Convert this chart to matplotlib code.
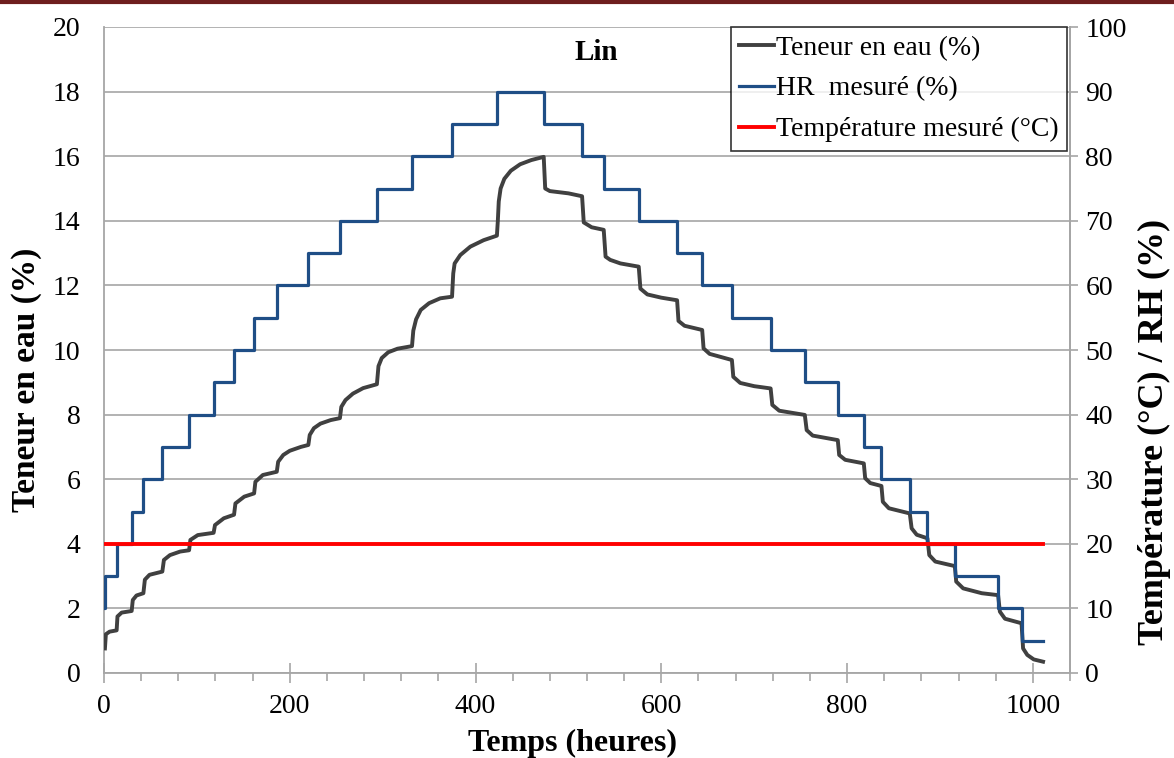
import matplotlib
matplotlib.use("Agg")
import matplotlib.pyplot as plt
from matplotlib.ticker import MultipleLocator
from matplotlib.lines import Line2D

# ---------------- data ----------------
# Relative humidity steps (time in hours, HR in %), drawn as a post-step line
hr_times = [0, 1, 13.6, 29.8, 42.4, 62.8, 91.6, 118, 140, 161.6, 186, 220, 254,
            293.8, 331.6, 374.7, 423, 473.4, 514.7, 538, 575.7, 617, 644, 676,
            717.7, 754.5, 790, 818, 837, 867.5, 886.5, 916, 962.6, 987.8, 1011]
hr_values = [10, 15, 20, 25, 30, 35, 40, 45, 50, 55, 60, 65, 70, 75, 80, 85, 90,
             85, 80, 75, 70, 65, 60, 55, 50, 45, 40, 35, 30, 25, 20, 15, 10, 5, 5]

# Temperature (°C)
temp_times = [0, 1011]
temp_values = [20, 20]

# Water content (%)
water_t = [1, 2, 6, 13.6,
           14.5, 19, 29.8,
           31, 35, 42.4,
           44, 49, 62.8,
           64.5, 71, 82, 91.6,
           93, 101, 118,
           119.5, 129, 140,
           141.5, 151, 161.6,
           163, 171, 186,
           187.5, 193, 200, 212, 220,
           221.5, 226, 233, 244, 254,
           255.5, 260, 268, 279, 293.8,
           295.5, 299, 306, 316, 331.6,
           333, 336, 341, 350, 362, 374.7,
           376, 377.5, 383.6, 394.4, 408.7, 423,
           424, 425, 427, 431, 438, 448, 460, 473.4,
           475, 480, 500, 514.7,
           516.5, 525, 538,
           540, 545, 556, 575.7,
           577.5, 585, 600, 617,
           618.5, 625, 644,
           645.5, 652, 676,
           677.5, 685, 700, 717.7,
           719.5, 727, 754.5,
           756.5, 763, 790,
           791.5, 798, 818,
           819.5, 825, 837,
           838.5, 845, 867.5,
           869.5, 875, 886.5,
           888.5, 895, 916,
           917.5, 925, 945, 962.6,
           964.5, 970, 987.8,
           989.5, 994, 1001, 1011]
water_w = [0.76, 1.2, 1.28, 1.32,
           1.75, 1.87, 1.92,
           2.26, 2.4, 2.47,
           2.89, 3.04, 3.14,
           3.5, 3.65, 3.76, 3.8,
           4.12, 4.27, 4.34,
           4.58, 4.79, 4.9,
           5.25, 5.46, 5.56,
           5.92, 6.13, 6.23,
           6.54, 6.75, 6.88, 7.0, 7.06,
           7.37, 7.58, 7.72, 7.83, 7.89,
           8.24, 8.45, 8.65, 8.82, 8.94,
           9.5, 9.75, 9.93, 10.04, 10.12,
           10.6, 10.95, 11.24, 11.45, 11.6, 11.65,
           12.37, 12.68, 12.94, 13.2, 13.4, 13.54,
           14.0, 14.6, 15.0, 15.3, 15.55, 15.75, 15.88, 15.98,
           15.0, 14.92, 14.85, 14.76,
           13.95, 13.8, 13.72,
           12.89, 12.79, 12.68, 12.58,
           11.9, 11.72, 11.62, 11.54,
           10.9, 10.75, 10.62,
           10.05, 9.88, 9.69,
           9.17, 8.98, 8.88, 8.81,
           8.3, 8.12, 7.99,
           7.52, 7.35, 7.21,
           6.75, 6.6, 6.49,
           6.03, 5.88, 5.79,
           5.3, 5.1, 4.94,
           4.48, 4.28, 4.17,
           3.65, 3.45, 3.31,
           2.83, 2.62, 2.47, 2.41,
           1.9, 1.68, 1.54,
           0.76, 0.56, 0.42, 0.35]

x_ticks = [0, 200, 400, 600, 800, 1000]
left_ticks = [0, 2, 4, 6, 8, 10, 12, 14, 16, 18, 20]
right_ticks = [0, 10, 20, 30, 40, 50, 60, 70, 80, 90, 100]

# ---------------- style ----------------
plt.rcParams['font.family'] = ['Liberation Serif', 'DejaVu Serif']
FS = 20
GRID = '#A6A6A6'
C_WATER = '#404040'
C_HR = '#1F4E86'
C_T = '#FF0000'

W, H = 1174, 758
fig = plt.figure(figsize=(W / 100, H / 100), dpi=100)
ax = fig.add_axes([104 / W, 1 - 673 / H, (1070 - 104) / W, (673 - 27) / H])
ax2 = ax.twinx()

l1, = ax.plot(water_t, water_w, color=C_WATER, lw=2.8, solid_joinstyle='round',
              label='Teneur en eau (%)', zorder=3)
l2, = ax2.step(hr_times, hr_values, where='post', color=C_HR, lw=2.3,
               label='HR  mesuré (%)', zorder=3)
l3, = ax2.plot(temp_times, temp_values, color=C_T, lw=2.8,
               label='Température mesuré (°C)', zorder=4)

ax.set_xlim(0, 1040)
ax.set_ylim(0, 20)
ax2.set_ylim(0, 100)
ax.set_xticks(x_ticks)
ax.xaxis.set_minor_locator(MultipleLocator(40))
ax.set_yticks(left_ticks)
ax2.set_yticks(right_ticks)

ax.grid(axis='y', color=GRID, lw=1.2)
ax.set_axisbelow(True)

for a in (ax, ax2):
    a.spines['top'].set_visible(False)
    for s in ('left', 'right', 'bottom'):
        a.spines[s].set_color(GRID)
        a.spines[s].set_linewidth(1.3)
ax2.spines['left'].set_visible(False)
ax2.spines['bottom'].set_visible(False)

ax.tick_params(axis='x', which='major', direction='inout', length=14, width=1.2,
               color=GRID, labelsize=FS, pad=8)
ax.tick_params(axis='x', which='minor', direction='out', length=6, width=1.2,
               color=GRID)
ax.tick_params(axis='y', length=0, labelsize=FS, pad=17)
ax2.tick_params(axis='y', direction='out', length=6, width=1.2, color=GRID,
                labelsize=FS, pad=5)

# axis titles placed explicitly
fig.text(572 / W, 1 - 743 / H, 'Temps (heures)', ha='center', va='center',
         fontsize=23, fontweight='bold')
fig.text(27 / W, 1 - 380 / H, 'Teneur en eau (%)', ha='center', va='center',
         rotation=90, fontsize=24, fontweight='bold')
fig.text(1154 / W, 1 - 432 / H, 'Température (°C) / RH (%)', ha='center',
         va='center', rotation=90, fontsize=26, fontweight='bold')

ax.text(596 / W, 1 - 52 / H, 'Lin', transform=fig.transFigure, ha='center',
        va='center', fontsize=21, fontweight='bold')

leg = ax2.legend(handles=[l1, l2, l3], loc='upper right', fontsize=FS,
                 frameon=True, fancybox=False, edgecolor='black',
                 handlelength=1.25, handletextpad=0.08, borderpad=0.3,
                 labelspacing=0.55, borderaxespad=0.0,
                 bbox_to_anchor=((1067 - 104) / (1070 - 104), 1.0))
leg.get_frame().set_linewidth(1.2)

# dark red page border line at the very top
fig.add_artist(Line2D([0, 1], [0.998, 0.998], transform=fig.transFigure,
                      color='#6E1E1E', lw=3))

fig.savefig('out.png', dpi=100)
